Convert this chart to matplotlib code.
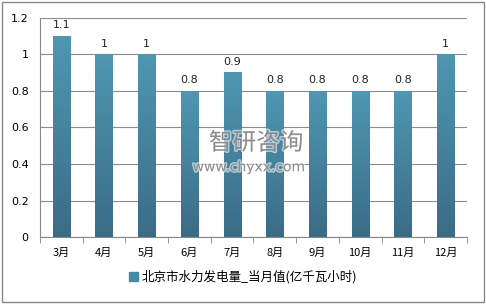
import numpy as np
import matplotlib.pyplot as plt
from matplotlib.patches import Rectangle
from matplotlib.colors import LinearSegmentedColormap
import matplotlib.patheffects as pe

plt.rcParams['font.family'] = ['Noto Sans CJK SC', 'DejaVu Sans']

#data
months = ['3月', '4月', '5月', '6月', '7月', '8月', '9月', '10月', '11月', '12月']
values = [1.1, 1, 1, 0.8, 0.9, 0.8, 0.8, 0.8, 0.8, 1]
labels = ['1.1', '1', '1', '0.8', '0.9', '0.8', '0.8', '0.8', '0.8', '1']
series_name = '北京市水力发电量_当月值(亿千瓦小时)'

fig = plt.figure(figsize=(4.86, 3.08), dpi=100)
ax = fig.add_axes([0.082, 0.23, 0.879, 0.713])

x = np.arange(len(months))
bars = ax.bar(x, values, width=0.4, color='#4689a4', zorder=2)

#vertical gradient on each bar, lighter at the top
grad = np.linspace(0, 1, 256).reshape(-1, 1)
cmap = LinearSegmentedColormap.from_list('bar', ['#3b6c86', '#4f97b2'])
for b in bars:
    x0, w, h = b.get_x(), b.get_width(), b.get_height()
    im = ax.imshow(grad, extent=[x0, x0 + w, 0, h], origin='lower', cmap=cmap,
                   aspect='auto', zorder=3)
    im.set_clip_path(b)

for xi, v, t in zip(x, values, labels):
    ax.text(xi, v + 0.03, t, ha='center', va='bottom', fontsize=8, color='#222222',
            family='DejaVu Sans')

ax.set_xlim(-0.5, len(months) - 0.5)
ax.set_ylim(0, 1.2)
ax.set_yticks(np.arange(0, 1.21, 0.2))
ax.set_yticklabels(['0', '0.2', '0.4', '0.6', '0.8', '1', '1.2'], fontsize=8, family='DejaVu Sans')
ax.set_xticks(x)
ax.set_xticklabels(months, fontsize=8)
ax.set_xticks(np.arange(-0.5, len(months)), minor=True)
ax.tick_params(axis='x', which='major', length=0, pad=8)
ax.tick_params(axis='x', which='minor', length=4, color='#888888')
ax.tick_params(axis='y', length=0, pad=8)
ax.yaxis.grid(True, color='#8c8c8c', linewidth=0.8, zorder=0)
ax.set_axisbelow(True)
for s in ['top', 'right']:
    ax.spines[s].set_visible(False)
ax.spines['left'].set_color('#888888')
ax.spines['bottom'].set_color('#888888')

#legend at the bottom
fig.legend([Rectangle((0, 0), 1, 1, color='#4689a4')], [series_name], loc='center',
           bbox_to_anchor=(0.5, 0.1), frameon=False, fontsize=9, handlelength=0.7,
           handleheight=0.7, handletextpad=0.3)

#watermark
halo = [pe.withStroke(linewidth=2, foreground='white', alpha=0.6)]
fig.text(0.527, 0.535, '智研咨询', fontsize=17, color='#7a7a7a', alpha=0.8, ha='center',
         va='center', path_effects=halo)
fig.text(0.512, 0.457, 'www.chyxx.com', fontsize=10, color='#7a7a7a', alpha=0.8, ha='center',
         va='center', family='DejaVu Sans', path_effects=halo)

#outer frame
fig.patches.append(Rectangle((0.005, 0.02), 0.99, 0.975, transform=fig.transFigure,
                             fill=False, edgecolor='#888888', linewidth=1))

fig.savefig('out.png', dpi=100)
